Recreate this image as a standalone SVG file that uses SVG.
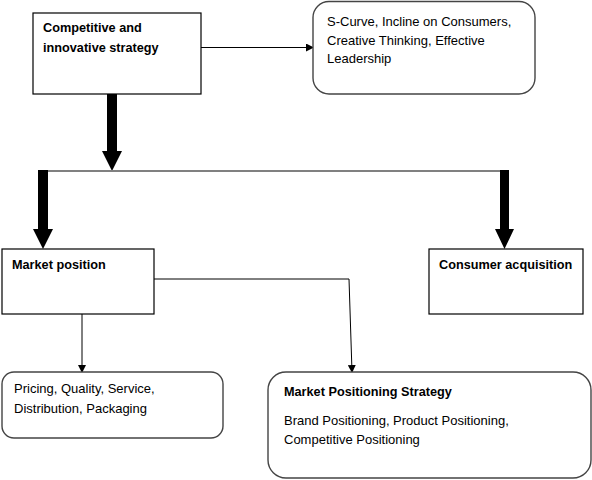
<svg xmlns="http://www.w3.org/2000/svg" width="592" height="480" viewBox="0 0 592 480">
<style>
.box{fill:#fff;stroke:#000;stroke-width:1.2}
.rbox{fill:#fff;stroke:#444;stroke-width:1.4}
.b{font-family:"Liberation Sans",Arial,sans-serif;font-weight:bold;font-size:12.7px;fill:#000}
.t{font-family:"Liberation Sans",Arial,sans-serif;font-size:13px;fill:#000}
.ln{fill:none;stroke:#000;stroke-width:1}
.thick{fill:#000}
</style>
<defs>
<marker id="ah" markerWidth="8" markerHeight="8" refX="7" refY="4" orient="auto" markerUnits="userSpaceOnUse">
<path d="M0,0 L8,4 L0,8 Z" fill="#000"/>
</marker>
</defs>
<rect width="592" height="480" fill="#fff"/>
<g id="connectors">
<line class="ln" x1="201" y1="47.5" x2="313" y2="47.5" marker-end="url(#ah)"/>
<polygon class="thick" points="107,94 117,94 117,151 122,151 112,171 102,151 107,151"/>
<line x1="48" y1="171" x2="500" y2="171" stroke="#808080" stroke-width="2"/>
<polygon class="thick" points="38,170 48,170 48,229 53,229 43,249 33,229 38,229"/>
<polygon class="thick" points="500,170 509,170 509,229 514,229 504.5,249 495,229 500,229"/>
<line class="ln" x1="82" y1="314" x2="82" y2="372" marker-end="url(#ah)"/>
<polyline class="ln" points="154,279 349,279 352,372" marker-end="url(#ah)"/>
</g>
<g id="node-competitive">
<rect class="box" x="33" y="13" width="168" height="81"/>
<text class="b" x="43" y="32">Competitive and</text>
<text class="b" x="43" y="52">innovative strategy</text>
</g>
<g id="node-scurve">
<rect class="rbox" x="313" y="1.5" width="222" height="92.5" rx="16" ry="16"/>
<text class="t" x="327" y="26">S-Curve, Incline on Consumers,</text>
<text class="t" x="327" y="45">Creative Thinking, Effective</text>
<text class="t" x="327" y="63">Leadership</text>
</g>
<g id="node-market-position">
<rect class="box" x="2" y="249" width="152" height="65"/>
<text class="b" x="12" y="269">Market position</text>
</g>
<g id="node-consumer">
<rect class="box" x="429" y="249" width="154" height="65"/>
<text class="b" x="439" y="269">Consumer acquisition</text>
</g>
<g id="node-pricing">
<rect class="rbox" x="2" y="372" width="221" height="66" rx="12" ry="12"/>
<text class="t" x="14" y="393">Pricing, Quality, Service,</text>
<text class="t" x="14" y="413">Distribution, Packaging</text>
</g>
<g id="node-mps">
<rect class="rbox" x="268" y="372" width="323" height="106" rx="18" ry="18"/>
<text class="b" x="284" y="396">Market Positioning Strategy</text>
<text class="t" x="284" y="425">Brand Positioning, Product Positioning,</text>
<text class="t" x="284" y="444">Competitive Positioning</text>
</g>
</svg>
